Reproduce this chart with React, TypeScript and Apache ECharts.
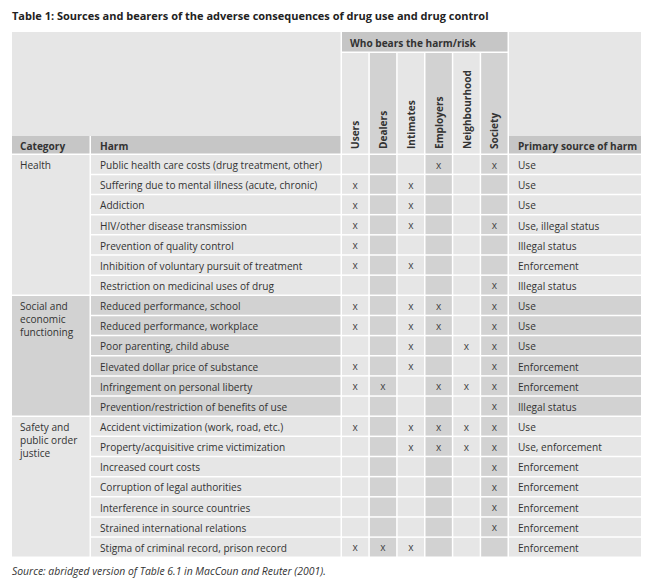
import React, { useEffect, useRef } from "react";
import * as echarts from "echarts";

const title = "Table 1: Sources and bearers of the adverse consequences of drug use and drug control";
const sourceNote = "Source: abridged version of Table 6.1 in MacCoun and Reuter (2001).";
const groupHeader = "Who bears the harm/risk";
const headerLabels = ["Category", "Harm", "Primary source of harm"];
const bearers = ["Users", "Dealers", "Intimates", "Employers", "Neighbourhood", "Society"];
const categories = ["Health", "Social and\neconomic\nfunctioning", "Safety and\npublic order\njustice"];
const categoryRows = [[0, 6], [7, 12], [13, 19]];
const harms = [
  "Public health care costs (drug treatment, other)",
  "Suffering due to mental illness (acute, chronic)",
  "Addiction",
  "HIV/other disease transmission",
  "Prevention of quality control",
  "Inhibition of voluntary pursuit of treatment",
  "Restriction on medicinal uses of drug",
  "Reduced performance, school",
  "Reduced performance, workplace",
  "Poor parenting, child abuse",
  "Elevated dollar price of substance",
  "Infringement on personal liberty",
  "Prevention/restriction of benefits of use",
  "Accident victimization (work, road, etc.)",
  "Property/acquisitive crime victimization",
  "Increased court costs",
  "Corruption of legal authorities",
  "Interference in source countries",
  "Strained international relations",
  "Stigma of criminal record, prison record",
];
const marks = [
  [0, 0, 0, 1, 0, 1],
  [1, 0, 1, 0, 0, 0],
  [1, 0, 1, 0, 0, 0],
  [1, 0, 1, 0, 0, 1],
  [1, 0, 0, 0, 0, 0],
  [1, 0, 1, 0, 0, 0],
  [0, 0, 0, 0, 0, 1],
  [1, 0, 1, 1, 0, 1],
  [1, 0, 1, 1, 0, 1],
  [0, 0, 1, 0, 1, 1],
  [1, 0, 1, 0, 0, 1],
  [1, 1, 0, 1, 1, 1],
  [0, 0, 0, 0, 0, 1],
  [1, 0, 1, 1, 1, 1],
  [0, 0, 1, 1, 1, 1],
  [0, 0, 0, 0, 0, 1],
  [0, 0, 0, 0, 0, 1],
  [0, 0, 0, 0, 0, 1],
  [0, 0, 0, 0, 0, 1],
  [1, 1, 1, 0, 0, 0],
];
const sources = [
  "Use", "Use", "Use", "Use, illegal status", "Illegal status", "Enforcement", "Illegal status",
  "Use", "Use", "Use", "Enforcement", "Enforcement", "Illegal status",
  "Use", "Use, enforcement", "Enforcement", "Enforcement", "Enforcement", "Enforcement", "Enforcement",
];

// layout
const W = 657;
const H = 585;
const LEFT = 12;
const RIGHT = 641;
const CAT_R = 91;
const B0 = 342;
const BW = (509 - 342) / 6;
const BEND = 509;
const TOP = 32;
const WHO_B = 53;
const HEAD_T = 136;
const DATA_T = 155;
const DATA_B = 558;
const GAP = 1.5;
const LIGHT = "#e6e6e6";
const DARK = "#d2d2d2";
const HEAD = "#c6c6c6";
const TXT = "#333333";
const FONT = '"Open Sans", "Noto Sans", sans-serif';
const FS = 10.1;

const bx = (k: number) => B0 + k * BW;
const colFill = (k: number) => (k % 2 === 1 ? DARK : LIGHT);
const sectionOf = (i: number) => categoryRows.findIndex(([s, e]) => i >= s && i <= e);

function txt(text: string, x: number, y: number, opts: any = {}) {
  return {
    type: "text",
    x,
    y,
    rotation: opts.rotation || 0,
    silent: true,
    style: {
      text,
      fill: opts.fill || TXT,
      fontSize: opts.fontSize || FS,
      fontFamily: FONT,
      fontWeight: opts.fontWeight || "normal",
      fontStyle: opts.fontStyle || "normal",
      align: opts.align || "left",
      textAlign: opts.align || "left",
      verticalAlign: opts.va || "middle",
      textVerticalAlign: opts.va || "middle",
      lineHeight: opts.lineHeight,
    },
  };
}
function rect(x: number, y: number, w: number, h: number, fill: string) {
  return { type: "rect", silent: true, shape: { x, y, width: w, height: h }, style: { fill } };
}

export default function App() {
  const ref = useRef<HTMLDivElement>(null);
  useEffect(() => {
    if (!ref.current) return;
    const chart = echarts.init(ref.current, undefined, { renderer: "svg" });

    const headerEls: any[] = [
      rect(LEFT, TOP, B0 - LEFT - GAP, HEAD_T - TOP, LIGHT),
      rect(LEFT, HEAD_T, CAT_R - LEFT - GAP, DATA_T - HEAD_T - GAP, HEAD),
      rect(CAT_R, HEAD_T, B0 - CAT_R - GAP, DATA_T - HEAD_T - GAP, HEAD),
      rect(B0, TOP, BEND - B0 - GAP, WHO_B - TOP - GAP, HEAD),
      rect(BEND, TOP, RIGHT - BEND, HEAD_T - TOP, LIGHT),
      rect(BEND, HEAD_T, RIGHT - BEND, DATA_T - HEAD_T - GAP, HEAD),
    ];
    bearers.forEach((_, k) => {
      headerEls.push(rect(bx(k), WHO_B, BW - GAP, DATA_T - WHO_B - GAP, colFill(k)));
    });
    const headerTexts: any[] = [
      txt(title, LEFT, 15, { fontSize: 11, fontWeight: "bold", fill: "#222" }),
      txt(groupHeader, B0 + 8, 43, { fontWeight: "bold" }),
      txt(headerLabels[0], LEFT + 8, 146, { fontWeight: "bold" }),
      txt(headerLabels[1], CAT_R + 9, 146, { fontWeight: "bold" }),
      txt(headerLabels[2], BEND + 9, 146, { fontWeight: "bold" }),
      txt(sourceNote, LEFT, 571, { fontStyle: "italic", fill: "#333", fontSize: 10.4 }),
    ];
    bearers.forEach((b, k) => {
      headerTexts.push(
        txt(b, bx(k) + (BW - GAP) / 2, 149, { fontWeight: "bold", rotation: Math.PI / 2 })
      );
    });

    const rowSeries = {
      type: "custom",
      silent: true,
      clip: false,
      encode: { x: 0, y: 1 },
      data: harms.map((_, i) => [LEFT, i]),
      renderItem: (_p: any, api: any) => {
        const i = api.value(1);
        const cy = api.coord([LEFT, i])[1];
        const h = api.size([0, 1])[1];
        const top = cy - h / 2;
        const X = (v: number) => api.coord([v, i])[0];
        const sec = sectionOf(i);
        const sf = sec % 2 === 1 ? DARK : LIGHT;
        const ch: any[] = [
          rect(X(CAT_R), top, X(B0) - X(CAT_R) - GAP, h - GAP, sf),
          txt(harms[i], X(CAT_R) + 9, cy),
        ];
        marks[i].forEach((m, k) => {
          ch.push(rect(X(bx(k)), top, BW - GAP, h - GAP, colFill(k)));
          if (m) ch.push(txt("x", X(bx(k)) + (BW - GAP) / 2, cy - 0.5, { align: "center", fill: "#444" }));
        });
        ch.push(rect(X(BEND), top, X(RIGHT) - X(BEND), h - GAP, sf));
        ch.push(txt(sources[i], X(BEND) + 9, cy));
        return { type: "group", children: ch };
      },
    };

    const catSeries = {
      type: "custom",
      silent: true,
      clip: false,
      encode: { x: 0, y: 1 },
      data: categoryRows.map(([s, e], k) => [LEFT, s, e, k]),
      renderItem: (_p: any, api: any) => {
        const s = api.value(1);
        const e = api.value(2);
        const k = api.value(3);
        const h = api.size([0, 1])[1];
        const top = api.coord([LEFT, s])[1] - h / 2;
        const bot = api.coord([LEFT, e])[1] + h / 2;
        const x0 = api.coord([LEFT, s])[0];
        const x1 = api.coord([CAT_R, s])[0];
        return {
          type: "group",
          children: [
            rect(x0, top, x1 - x0 - GAP, bot - top - GAP, k % 2 === 1 ? DARK : LIGHT),
            txt(categories[k], x0 + 8, top + 3.5, { va: "top", lineHeight: 13 }),
          ],
        };
      },
    };

    chart.setOption({
      animation: false,
      backgroundColor: "#ffffff",
      grid: { left: LEFT, right: W - RIGHT, top: DATA_T, bottom: H - DATA_B, containLabel: false },
      xAxis: { type: "value", min: LEFT, max: RIGHT, show: false },
      yAxis: { type: "category", data: harms, inverse: true, show: false },
      graphic: [...headerEls, ...headerTexts],
      series: [catSeries, rowSeries],
    });
    return () => chart.dispose();
  }, []);
  return <div ref={ref} style={{ position: "fixed", left: 0, top: 0, width: W, height: H }} />;
}
